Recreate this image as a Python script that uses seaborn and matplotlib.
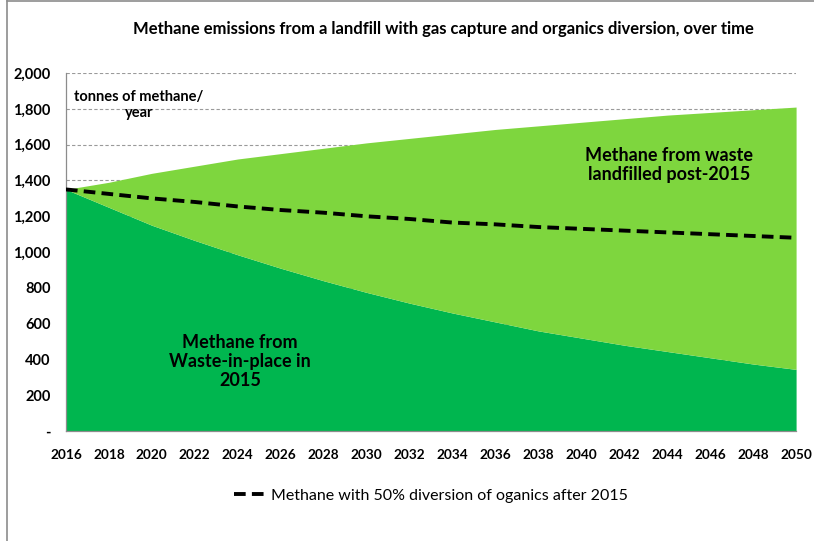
import numpy as np
import pandas as pd
import matplotlib
matplotlib.use("Agg")
import matplotlib.pyplot as plt
import seaborn as sns
from matplotlib.ticker import FuncFormatter, MultipleLocator

# --------------------------
# Data
# --------------------------
years = list(range(2016, 2051, 2))
in_place = [1350, 1250, 1150, 1065, 985, 910, 840, 775, 715,
            660, 610, 560, 520, 480, 445, 410, 375, 345]
total = [1350, 1390, 1440, 1480, 1520, 1550, 1580, 1610, 1635,
         1660, 1685, 1705, 1725, 1745, 1765, 1780, 1795, 1810]
diversion = [1350, 1325, 1300, 1280, 1255, 1235, 1220, 1200, 1185,
             1165, 1155, 1140, 1130, 1120, 1110, 1100, 1090, 1080]

df = pd.DataFrame({"year": years, "in_place": in_place,
                   "total": total, "diversion": diversion})

# --------------------------
# Style
# --------------------------
sns.set_style("white")
plt.rcParams["font.family"] = ["Lato", "DejaVu Sans"]
plt.rcParams["font.weight"] = "bold"
plt.rcParams["text.color"] = "black"
plt.rcParams["xtick.color"] = "black"
plt.rcParams["ytick.color"] = "black"

fig = plt.figure(figsize=(8.14, 5.41), dpi=100)
ax = fig.add_axes([0.081, 0.203, 0.897, 0.662])

dark_green = "#00B64F"
light_green = "#7ED63E"

ax.fill_between(df["year"], 0, df["in_place"], color=dark_green, lw=0, zorder=2)
ax.fill_between(df["year"], df["in_place"], df["total"], color=light_green, lw=0, zorder=2)
sns.lineplot(data=df, x="year", y="diversion", ax=ax, color="black", lw=2.8,
             linestyle=(0, (3, 1.6)), zorder=3,
             label="Methane with 50% diversion of oganics after 2015")

# --------------------------
# Axes
# --------------------------
ax.set_xlim(2016, 2050)
ax.set_ylim(0, 2000)
ax.xaxis.set_major_locator(MultipleLocator(2))
ax.xaxis.set_minor_locator(MultipleLocator(1))
ax.yaxis.set_major_locator(MultipleLocator(200))
ax.yaxis.set_major_formatter(FuncFormatter(lambda v, p: "-" if v == 0 else f"{int(v):,}"))
ax.set_xlabel("")
ax.set_ylabel("")
ax.grid(axis="y", color="#9a9a9a", linestyle=(0, (3, 2)), lw=0.8, zorder=0)
ax.set_axisbelow(True)

for s in ["top", "right"]:
    ax.spines[s].set_visible(False)
for s in ["left", "bottom"]:
    ax.spines[s].set_color("#8c8c8c")
    ax.spines[s].set_linewidth(0.9)

ax.tick_params(axis="x", which="both", direction="out", length=5, color="#8c8c8c",
               labelsize=9.8, pad=8)
ax.tick_params(axis="y", which="major", direction="out", length=5, color="#8c8c8c",
               labelsize=10.5, pad=6)
for lab in ax.get_xticklabels() + ax.get_yticklabels():
    lab.set_fontweight("bold")

# --------------------------
# Text annotations
# --------------------------
fig.text(0.545, 0.947, "Methane emissions from a landfill with gas capture and organics diversion, over time",
         ha="center", va="center", fontsize=12, fontweight="bold")
ax.text(2019.4, 1905, "tonnes of methane/\nyear", ha="center", va="top",
        fontsize=10.5, fontweight="bold", linespacing=1.15)
ax.text(2024.1, 390, "Methane from\nWaste-in-place in\n2015", ha="center", va="center",
        fontsize=13, fontweight="bold", linespacing=1.15)
ax.text(2044.1, 1485, "Methane from waste\nlandfilled post-2015", ha="center", va="center",
        fontsize=13, fontweight="bold", linespacing=1.15)

leg = ax.legend(loc="upper center", bbox_to_anchor=(0.5, -0.12), frameon=False,
                fontsize=11.5, handlelength=2.0, handletextpad=0.3)
for t in leg.get_texts():
    t.set_fontweight("normal")

# border lines (left and top) around the chart area
fig.add_artist(plt.Line2D([0.009, 0.009], [0, 1], transform=fig.transFigure,
                          color="#8c8c8c", lw=1.2))
fig.add_artist(plt.Line2D([0.009, 1], [0.999, 0.999], transform=fig.transFigure,
                          color="#8c8c8c", lw=1.2))

plt.savefig("out.png", dpi=100)
